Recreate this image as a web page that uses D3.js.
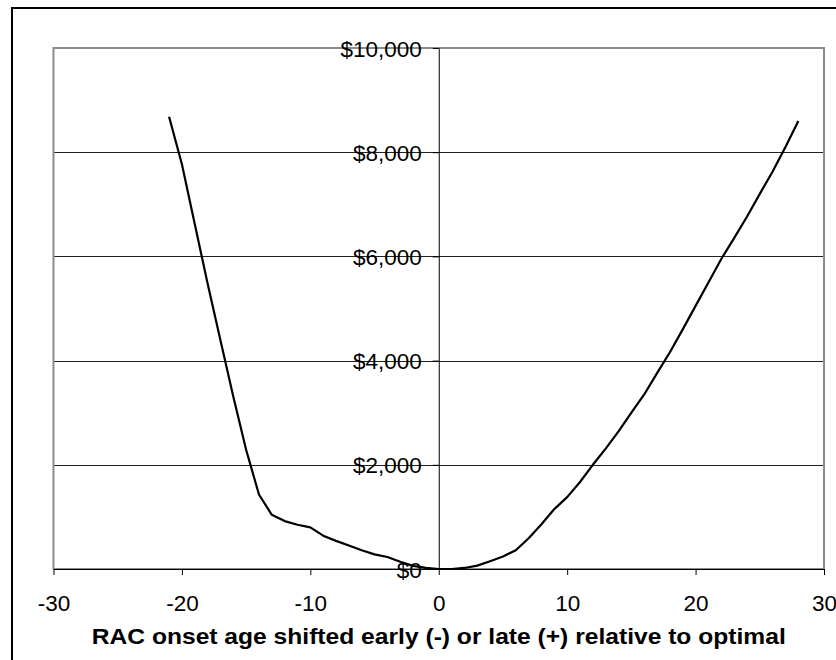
<!DOCTYPE html>
<html>
<head>
<meta charset="utf-8">
<script src="https://cdn.jsdelivr.net/npm/d3@7"></script>
<style>
  body { margin: 0; background: #fff; }
  svg { display: block; font-family: "Liberation Sans", Arial, sans-serif; }
</style>
</head>
<body>
<svg id="chart" width="836" height="660"></svg>
<script>
// shift of RAC onset age (years) vs cost
const shiftYears = [-21, -20, -19, -18, -17, -16, -15, -14, -13, -12, -11, -10, -9, -8, -7, -6, -5, -4, -3, -2, -1, 0,
  1, 2, 3, 4, 5, 6, 7, 8, 9, 10, 11, 12, 13, 14, 15, 16, 17, 18, 19, 20, 21, 22, 23, 24, 25, 26, 27, 28];
const costValues = [8680, 7770, 6620, 5480, 4390, 3310, 2290, 1430, 1040, 920, 850, 800, 640, 540, 450, 360, 280, 230, 140, 60, 20, 0,
  0, 20, 65, 150, 240, 360, 590, 860, 1150, 1380, 1670, 2000, 2310, 2640, 3000, 3350, 3760, 4160, 4600, 5050, 5500, 5950, 6350, 6760, 7200, 7630, 8100, 8600];
const xTicks = [-30, -20, -10, 0, 10, 20, 30];
const yTicks = [0, 2000, 4000, 6000, 8000, 10000];
const xTitle = "RAC onset age shifted early (-) or late (+) relative to optimal";

const plot = { left: 53.5, right: 824, top: 48, bottom: 569 };

const svg = d3.select("#chart");

// outer chart frame
svg.append("rect")
  .attr("x", 12).attr("y", 8)
  .attr("width", 900).attr("height", 700)
  .attr("fill", "none").attr("stroke", "#000").attr("stroke-width", 2);

const x = d3.scaleLinear().domain([-30, 30]).range([plot.left, plot.right]);
const y = d3.scaleLinear().domain([0, 10000]).range([plot.bottom, plot.top]);

// gridlines
svg.append("g")
  .selectAll("line")
  .data(yTicks.filter(d => d > 0 && d < 10000))
  .enter()
  .append("line")
  .attr("x1", plot.left).attr("x2", plot.right)
  .attr("y1", d => Math.round(y(d)) + 0.5).attr("y2", d => Math.round(y(d)) + 0.5)
  .attr("stroke", "#222").attr("stroke-width", 1);

// plot area border
svg.append("rect")
  .attr("x", plot.left).attr("y", plot.top)
  .attr("width", plot.right - plot.left).attr("height", plot.bottom - plot.top)
  .attr("fill", "none").attr("stroke", "#8c8c8c").attr("stroke-width", 2);

// x axis
const xAxis = svg.append("g")
  .attr("transform", `translate(0,${plot.bottom})`)
  .call(d3.axisBottom(x).tickValues(xTicks).tickSize(6).tickSizeOuter(0).tickFormat(d3.format("d")));
xAxis.select(".domain").attr("stroke", "#000");
xAxis.selectAll(".tick line").attr("stroke", "#000");
xAxis.selectAll("text")
  .attr("y", 42).attr("dy", null)
  .attr("font-size", 22.5).attr("fill", "#000")
  .text(d => d < 0 ? "-" + Math.abs(d) : d);

// y axis at x = 0
const yAxis = svg.append("g")
  .attr("transform", `translate(${x(0)},0)`)
  .call(d3.axisLeft(y).tickValues(yTicks).tickSize(6).tickSizeOuter(0).tickPadding(11)
    .tickFormat(d => "$" + d3.format(",")(d)));
yAxis.select(".domain").attr("stroke", "#000");
yAxis.selectAll(".tick line").attr("stroke", "#000");
yAxis.selectAll("text")
  .attr("font-size", 22.5).attr("fill", "#000").attr("dy", "0.36em");

// curve
const line = d3.line()
  .x((d, i) => x(shiftYears[i]))
  .y(d => y(d));

svg.append("path")
  .datum(costValues)
  .attr("d", line)
  .attr("fill", "none")
  .attr("stroke", "#000")
  .attr("stroke-width", 2.2)
  .attr("stroke-linejoin", "round");

// x axis title (stretched wide like the original)
svg.append("text")
  .attr("x", (plot.left + plot.right) / 2)
  .attr("y", 644)
  .attr("text-anchor", "middle")
  .attr("font-size", 21.5)
  .attr("font-weight", "bold")
  .attr("textLength", 694)
  .attr("lengthAdjust", "spacingAndGlyphs")
  .text(xTitle);
</script>
</body>
</html>
